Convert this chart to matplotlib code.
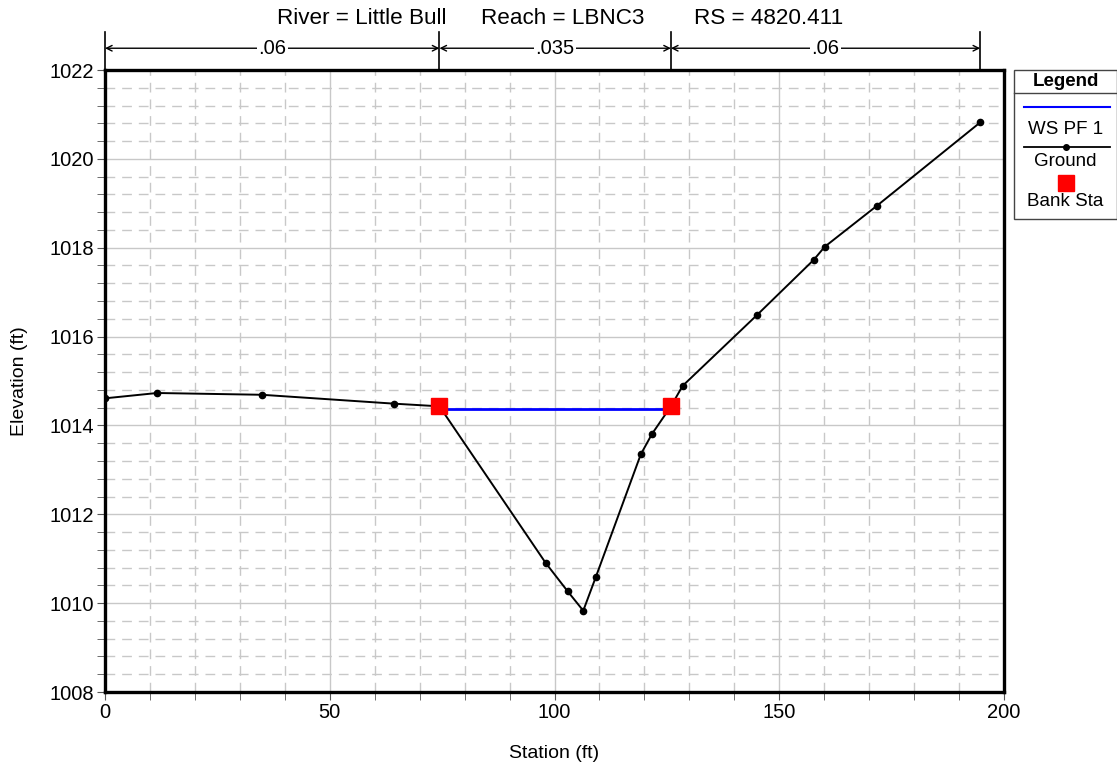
import matplotlib
matplotlib.use("Agg")
import matplotlib.pyplot as plt
from matplotlib.lines import Line2D
from matplotlib.patches import Rectangle
from matplotlib.ticker import MultipleLocator

plt.rcParams['font.family'] = ['Liberation Sans', 'DejaVu Sans']

# ground profile
station = [0, 11.6, 34.9, 64.3, 74.4, 98.0, 102.9, 106.4, 109.2, 119.2, 121.7,
           125.9, 128.5, 145.0, 157.7, 160.1, 171.8, 194.7]
elev = [1014.61, 1014.73, 1014.69, 1014.49, 1014.43, 1010.91, 1010.27, 1009.83,
        1010.59, 1013.35, 1013.81, 1014.43, 1014.89, 1016.48, 1017.73, 1018.02,
        1018.95, 1020.82]

bank_sta = [74.4, 125.9]
bank_elev = [1014.43, 1014.43]

ws_elev = 1014.36

# manning n zones
n_edges = [0, 74.4, 125.9, 194.7]
n_vals = [".06", ".035", ".06"]

title_parts = ["River = Little Bull", "Reach = LBNC3", "RS = 4820.411"]

W, H = 1117, 769
fig = plt.figure(figsize=(W / 100, H / 100), dpi=100)
ax = fig.add_axes([105 / W, 1 - 692 / H, 899 / W, 622 / H])

ax.plot(bank_sta, [ws_elev, ws_elev], color="#0000ff", lw=2, zorder=3)
ax.plot(station, elev, color="black", lw=1.4, marker="o", ms=4.5, zorder=4)
ax.plot(bank_sta, bank_elev, ls="none", marker="s", ms=11, color="#ff0000", zorder=5)

ax.set_xlim(0, 200)
ax.set_ylim(1008, 1022)
ax.xaxis.set_major_locator(MultipleLocator(50))
ax.xaxis.set_minor_locator(MultipleLocator(10))
ax.yaxis.set_major_locator(MultipleLocator(2))
ax.yaxis.set_minor_locator(MultipleLocator(0.4))
ax.grid(which="major", color="#c8c8c8", lw=1.0, ls="-")
ax.grid(which="minor", color="#c8c8c8", lw=1.0, ls=(0, (7, 5)))
ax.set_axisbelow(True)
for s in ax.spines.values():
    s.set_linewidth(2.4)
ax.tick_params(which="both", direction="out", color="#555555", labelsize=14.5)
ax.tick_params(which="major", length=6, pad=2)
ax.tick_params(which="minor", length=6)
ax.ticklabel_format(useOffset=False, axis="y")
ax.set_xlabel("Station (ft)", fontsize=14)
ax.set_ylabel("Elevation (ft)", fontsize=14)
ax.xaxis.set_label_coords(0.5, -0.085)
ax.yaxis.set_label_coords(-0.086, 0.5)

# title in three pieces
for txt, xl in zip(title_parts, [277, 481, 694]):
    fig.text(xl / W, 1 - 18 / H, txt, ha="left", va="center", fontsize=16.2)

# manning n arrows above plot
tr = ax.get_xaxis_transform()
for e in n_edges:
    ax.plot([e, e], [1.0, 1.061], transform=tr, color="black", lw=1.2, clip_on=False)
for i, lab in enumerate(n_vals):
    a, b = n_edges[i], n_edges[i + 1]
    ax.annotate("", xy=(a, 1.035), xytext=(b, 1.035), xycoords=tr, textcoords=tr,
                arrowprops=dict(arrowstyle="<->", color="black", lw=1.0,
                                shrinkA=0, shrinkB=0))
    ax.text((a + b) / 2, 1.035, lab, transform=tr, ha="center", va="center",
            fontsize=14.5, bbox=dict(facecolor="white", edgecolor="none", pad=1))

# legend box
x0, x1 = 1014 / W, 1116.5 / W
y_top, y_bot = 1 - 70 / H, 1 - 219 / H
fig.add_artist(Rectangle((x0, y_bot), x1 - x0, y_top - y_bot, transform=fig.transFigure,
                         facecolor="white", edgecolor="#444444", lw=1.0))
fig.add_artist(Line2D([x0, x1], [1 - 93 / H] * 2, transform=fig.transFigure,
                      color="#444444", lw=1.0))
xc = (1014 + 1117) / 2 / W
fig.text(xc, 1 - 82 / H, "Legend", ha="center", va="center", fontsize=13.5, weight="bold")
fig.add_artist(Line2D([1024 / W, 1110 / W], [1 - 107 / H] * 2,
                      transform=fig.transFigure, color="#0000ff", lw=1.5))
fig.text(xc, 1 - 130 / H, "WS PF 1", ha="center", va="center", fontsize=13.5)
fig.add_artist(Line2D([1024 / W, 1110 / W], [1 - 147 / H] * 2,
                      transform=fig.transFigure, color="black", lw=1.3))
fig.add_artist(Line2D([xc], [1 - 147 / H], transform=fig.transFigure,
                      color="black", marker="o", ms=4))
fig.text(xc, 1 - 161 / H, "Ground", ha="center", va="center", fontsize=13.5)
fig.add_artist(Line2D([xc], [1 - 183 / H], transform=fig.transFigure,
                      color="#ff0000", marker="s", ms=11, ls="none"))
fig.text(xc, 1 - 202 / H, "Bank Sta", ha="center", va="center", fontsize=13.5)

fig.savefig("out.png", dpi=100)
